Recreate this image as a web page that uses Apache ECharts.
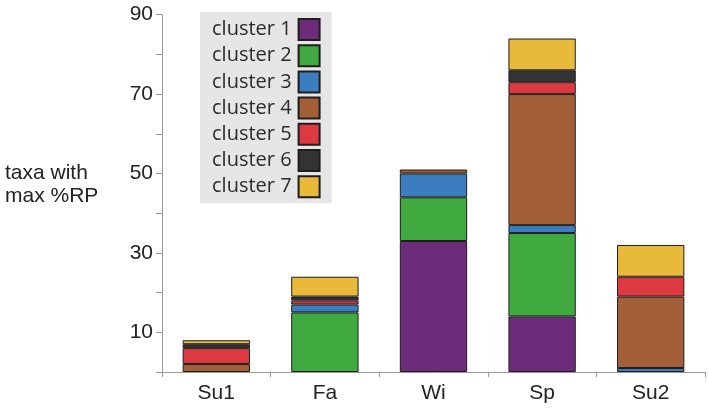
<!DOCTYPE html>
<html>
<head>
<meta charset="utf-8">
<script src="https://cdn.jsdelivr.net/npm/echarts@6/dist/echarts.min.js"></script>
<style>html,body{margin:0;padding:0;background:#fff;}#chart{width:708px;height:408px;}</style>
</head>
<body>
<div id="chart"></div>
<script>
const categories = ['Su1', 'Fa', 'Wi', 'Sp', 'Su2'];
const seriesNames = ['cluster 1', 'cluster 2', 'cluster 3', 'cluster 4', 'cluster 5', 'cluster 6', 'cluster 7'];
const cluster1 = [null, null, 33, 14, null];
const cluster2 = [null, 15, 11, 21, null];
const cluster3 = [null, 2, 6, 2, 1];
const cluster4 = [2, null, 1, 33, 18];
const cluster5 = [4, 1, null, 3, 5];
const cluster6 = [1, 1, null, 3, null];
const cluster7 = [1, 5, null, 8, 8];
const yLabels = [10, 30, 50, 70, 90];
const colors = ['#6d2c7a', '#40aa40', '#3b7dbf', '#a35f37', '#dc3a40', '#333333', '#e8b93b'];

const allData = [cluster1, cluster2, cluster3, cluster4, cluster5, cluster6, cluster7];

const chart = echarts.init(document.getElementById('chart'), null, {renderer: 'canvas'});
chart.setOption({
  animation: false,
  grid: {left: 162, right: 3, top: 14.7, bottom: 36, containLabel: false},
  graphic: [{
    type: 'text', left: 5, top: 162,
    style: {text: 'taxa with\nmax %RP', font: '21px "Liberation Sans", Arial, sans-serif', fill: '#222', lineHeight: 23}
  }],
  legend: {
    orient: 'vertical', left: 200, top: 12, align: 'right',
    icon: 'rect',
    itemWidth: 21, itemHeight: 21, itemGap: 3.2,
    padding: [6, 11, 5, 12],
    backgroundColor: '#e6e6e6',
    textStyle: {fontFamily: 'Open Sans', fontSize: 20, color: '#2b2b2b', padding: [0, 2, 0, 0]},
    data: seriesNames
  },
  xAxis: {
    type: 'category', data: categories,
    axisLine: {lineStyle: {color: '#999', width: 1}},
    axisTick: {show: true, length: 5, lineStyle: {color: '#999'}},
    axisLabel: {fontFamily: 'Liberation Sans', fontSize: 21, color: '#222', margin: 11}
  },
  yAxis: {
    type: 'value', min: 0, max: 90, interval: 10,
    splitLine: {show: false},
    axisLine: {show: true, lineStyle: {color: '#999', width: 1}},
    axisTick: {show: true, inside: false, length: 6, lineStyle: {color: '#999'}},
    axisLabel: {
      fontFamily: 'Liberation Sans', fontSize: 21, color: '#222', margin: 9,
      formatter: v => yLabels.includes(v) ? String(v) : ''
    }
  },
  series: seriesNames.map((name, i) => ({
    name: name, type: 'bar', stack: 'total', barWidth: '62%',
    data: allData[i],
    itemStyle: {color: colors[i], borderColor: '#1e1e1e', borderWidth: 1}
  }))
});
</script>
</body>
</html>
